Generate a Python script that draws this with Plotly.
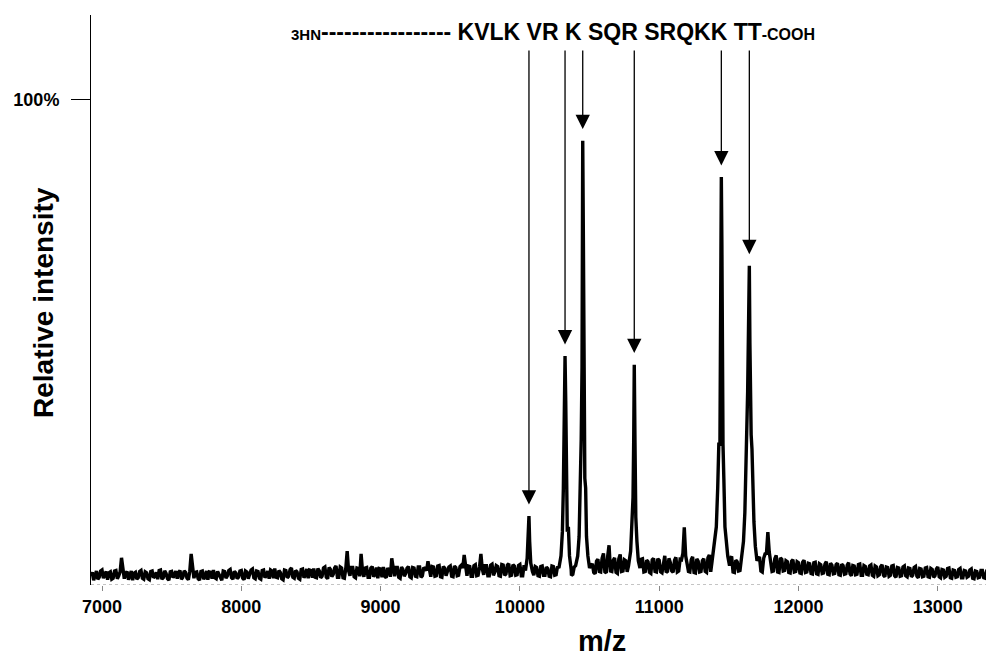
import plotly.graph_objects as go

# ---------------- data ----------------
# baseline spectrum sampled every 20 m/z starting at 6920
noise_start_mz = 6920
noise_step_mz = 20
noise_intensity = [
    1.8,1.0,2.9,1.6,3.1,2.2,1.1,2.7,1.4,3.0,1.9,5.6,1.3,2.8,2.2,1.0,2.6,1.5,3.0,1.2,
    2.5,1.1,2.9,1.8,1.2,3.1,1.5,2.4,1.0,2.8,2.0,1.3,3.0,1.6,2.6,1.1,6.4,1.4,2.7,1.0,
    2.9,1.7,1.1,2.6,3.1,1.3,2.2,1.0,2.8,1.9,3.2,1.2,2.5,1.6,3.0,1.1,2.7,2.0,3.3,1.3,
    2.8,1.2,3.1,2.0,1.3,2.9,3.4,1.5,2.6,1.1,3.0,1.8,3.5,1.4,2.7,1.2,3.3,2.1,1.4,3.0,
    3.4,1.5,2.9,1.8,3.7,1.3,3.2,2.2,3.9,1.6,3.5,1.4,7.0,1.9,3.6,1.5,3.4,6.4,1.7,3.6,
    1.6,3.8,2.2,1.4,3.3,3.7,1.5,3.0,5.5,1.8,3.6,1.4,3.2,2.4,3.8,1.5,3.5,1.7,3.7,1.9,
    3.4,4.9,1.7,3.7,1.9,4.0,1.6,3.5,2.6,3.9,1.7,3.6,2.0,4.1,6.2,1.9,3.8,1.8,4.2,2.0,
    6.4,2.1,4.0,1.9,4.3,2.7,3.8,1.8,4.1,2.3,4.4,2.0,3.9,2.1,4.2,1.9,3.7,2.3,4.1,2.0,
    3.6,1.8,3.9,2.0,3.4,1.7,3.8,2.1,4.1,1.9,3.7,2.0,4.0,2.2,3.5,1.9,3.8,2.1,3.6,1.8,
    4.4,2.3,5.3,2.7,6.5,2.5,8.2,2.8,5.6,2.4,6.3,2.9,5.0,2.6,5.8,2.7,4.7,2.5,5.4,2.8,
    4.8,2.4,5.5,2.7,5.1,2.5,6.0,2.8,4.6,2.6,5.7,2.9,5.2,11.9,4.3,2.7,5.8,2.5,4.9,2.8,
    5.4,2.6,6.2,2.9,5.0,2.7,5.7,2.5,5.1,2.8,5.9,2.6,4.8,3.0,5.3,2.7,4.9,2.5,5.5,2.8,
    5.8,2.7,6.4,10.9,5.0,2.9,6.1,2.6,5.3,3.0,4.8,2.5,5.2,2.8,4.6,2.4,5.1,2.7,4.4,2.3,
    4.7,2.2,4.2,2.5,4.8,2.1,4.1,2.4,4.5,2.0,4.0,2.3,4.6,1.9,3.9,2.2,4.3,2.0,3.8,2.1,
    4.1,1.8,3.7,2.1,4.2,1.7,3.6,2.0,4.0,1.6,3.5,1.9,3.9,1.7,3.4,2.0,3.8,1.5,3.3,1.8,
    3.6,1.6,3.2,1.9,3.7,1.5,3.1,1.8,3.5,1.4,3.0,1.7,3.4,1.5,2.9,1.8,3.3,1.3,2.8,1.6,
    3.0,1.4,2.7,
]
# intermediate samples, every 20 m/z starting at 6930
noise_mid_start_mz = 6930
noise_intensity_mid = [
    2.6,2.3,1.2,2.9,1.4,2.8,2.5,1.2,2.9,1.3,2.7,3.1,2.4,1.1,2.9,2.4,1.2,2.8,1.4,2.7,
    1.3,2.8,1.5,2.6,3.0,1.2,2.9,1.3,2.7,1.5,2.9,2.6,1.2,2.9,1.4,2.8,2.9,2.6,1.3,2.8,
    1.2,2.9,2.7,1.3,1.5,2.8,1.3,2.9,1.4,3.0,1.5,2.8,1.3,2.9,1.4,2.9,1.3,3.1,1.5,2.9,
    1.4,3.0,1.5,2.9,3.1,1.4,1.6,3.0,1.3,3.1,1.5,3.2,1.6,3.0,1.4,3.2,1.5,3.3,3.1,1.5,
    1.6,3.4,1.5,3.5,1.6,3.6,1.7,3.5,1.6,3.7,1.5,3.4,3.0,3.6,1.7,3.5,1.8,2.9,3.5,1.6,
    3.5,1.7,3.6,3.4,1.6,1.8,3.5,1.7,3.2,3.6,1.6,3.7,1.8,3.5,1.7,3.6,1.8,3.7,1.6,3.6,
    3.0,2.9,3.8,1.8,3.9,1.7,3.8,1.9,3.7,1.8,3.9,1.9,3.8,3.5,3.2,3.9,1.8,4.0,1.9,3.7,
    3.3,4.0,1.9,4.1,2.0,4.0,1.9,4.2,2.0,4.1,1.9,4.2,2.0,4.0,1.9,4.1,2.0,3.9,1.9,3.8,
    1.9,3.8,2.0,3.7,1.8,3.9,2.0,3.8,1.9,4.0,1.8,3.9,2.0,3.7,1.9,3.8,2.0,3.9,1.9,4.0,
    2.6,4.9,2.8,5.5,2.7,5.9,2.9,5.1,2.6,5.4,2.8,5.2,2.7,5.5,2.6,5.0,2.9,5.3,2.7,5.1,
    2.6,5.2,2.8,5.4,2.7,5.0,2.6,5.5,2.9,5.1,2.7,5.3,6.5,6.0,2.8,5.2,2.6,5.4,2.7,5.0,
    2.8,5.6,2.7,5.3,2.9,5.5,2.6,5.2,2.8,5.4,2.7,5.1,2.9,5.3,2.6,5.0,2.8,5.2,2.7,5.4,
    2.9,5.5,6.5,6.8,2.8,5.4,2.7,5.6,2.9,5.0,2.6,4.9,2.7,4.8,2.5,4.7,2.6,4.5,2.4,4.6,
    2.3,4.4,2.4,4.3,2.2,4.5,2.3,4.2,2.1,4.3,2.2,4.1,2.3,4.0,2.1,4.2,2.0,4.0,2.2,3.9,
    2.0,3.9,1.9,3.8,2.0,3.7,1.8,3.9,1.9,3.6,1.8,3.7,1.9,3.5,1.7,3.6,1.8,3.4,1.7,3.5,
    1.7,3.4,1.6,3.3,1.7,3.2,1.6,3.4,1.5,3.1,1.6,3.2,1.5,3.0,1.6,3.1,1.4,2.9,1.5,3.0,
    1.5,2.8,
]

# labelled peaks (apex m/z and relative intensity)
peak_mz = [10065, 10324, 10451, 10821, 11446, 11647]
peak_int = [14.2, 47.2, 91.6, 45.4, 84.1, 65.8]

# peak profiles (m/z, intensity) around each labelled peak
peak1_mz = [10040, 10052, 10060, 10065, 10070, 10078, 10090]
peak1_int = [3.0, 5.5, 10.0, 14.2, 9.0, 4.5, 2.8]
peak2_mz = [10280, 10295, 10305, 10312, 10318, 10324, 10329, 10334, 10340, 10348, 10356, 10368]
peak2_int = [3.5, 6.0, 11.0, 20.0, 35.0, 47.2, 38.0, 15.0, 11.0, 12.0, 6.0, 3.2]
peak3_mz = [10400, 10415, 10425, 10433, 10440, 10446, 10451, 10456, 10460, 10466, 10472, 10478, 10488, 10500]
peak3_int = [4.0, 6.0, 10.0, 18.0, 30.0, 45.0, 91.6, 70.0, 28.0, 22.0, 20.0, 10.0, 6.0, 3.5]
peak4_mz = [10780, 10795, 10805, 10812, 10817, 10821, 10826, 10832, 10840, 10850, 10862]
peak4_int = [4.0, 7.0, 12.0, 18.0, 30.0, 45.4, 30.0, 14.0, 9.0, 5.0, 3.5]
peak5_mz = [11380, 11395, 11410, 11420, 11428, 11436, 11441, 11446, 11450, 11453, 11458, 11464, 11472, 11482, 11492, 11505]
peak5_int = [5.0, 8.0, 12.0, 20.0, 29.0, 29.0, 60.0, 84.1, 70.0, 30.0, 29.0, 22.0, 12.0, 9.0, 6.0, 4.0]
peak6_mz = [11590, 11605, 11615, 11625, 11635, 11642, 11647, 11651, 11655, 11660, 11666, 11672, 11680, 11690, 11702]
peak6_int = [5.0, 9.0, 15.0, 25.0, 40.0, 55.0, 65.8, 50.0, 31.0, 31.0, 28.0, 20.0, 13.0, 8.0, 5.0]

x_tick_values = [7000, 8000, 9000, 10000, 11000, 12000, 13000]
x_tick_labels = ["7000", "8000", "9000", "10000", "11000", "12000", "13000"]
y_tick_values = [100]
y_tick_labels = ["100%"]

# ---------------- build spectrum ----------------
profiles = [(peak1_mz, peak1_int), (peak2_mz, peak2_int), (peak3_mz, peak3_int),
            (peak4_mz, peak4_int), (peak5_mz, peak5_int), (peak6_mz, peak6_int)]


def in_peak(m):
    return any(pm[0] <= m <= pm[-1] for pm, _ in profiles)


points = []
for start, vals in ((noise_start_mz, noise_intensity), (noise_mid_start_mz, noise_intensity_mid)):
    for i, v in enumerate(vals):
        m = start + i * noise_step_mz
        if not in_peak(m):
            points.append((m, v))
for pm, pi in profiles:
    points.extend(zip(pm, pi))
points.sort()
spec_mz = [p[0] for p in points]
spec_int = [p[1] for p in points]

FONT = "Liberation Sans"

fig = go.Figure()
fig.add_trace(go.Scatter(x=spec_mz, y=spec_int, mode="lines",
                         line=dict(color="black", width=3.4), hoverinfo="skip",
                         showlegend=False))

# dotted baseline axis
fig.add_shape(type="line", xref="paper", x0=0, x1=1, yref="y", y0=0, y1=0,
              line=dict(color="#888888", width=1, dash="dot"))

# arrows
for m, h in zip(peak_mz, peak_int):
    fig.add_annotation(x=m, y=h + 2.4, ax=m, ay=110.5, xref="x", yref="y",
                       axref="x", ayref="y", text="", showarrow=True,
                       arrowhead=2, arrowsize=2.2, arrowwidth=1.3,
                       arrowcolor="black")

# sequence text
fig.add_annotation(
    xref="paper", yref="paper", x=0.221, y=0.970, xanchor="left", yanchor="middle",
    showarrow=False,
    text='<span style="font-size:15px">3HN</span>----------------- KVLK VR K SQR SRQKK TT<span style="font-size:16px">-COOH</span>',
    font=dict(family=FONT, size=23, color="black", weight="bold"))

# axis titles
fig.add_annotation(xref="paper", yref="paper", x=(602 - 91) / 895, y=(585 - 641) / 570,
                   xanchor="center", yanchor="middle", showarrow=False, text="m/z",
                   font=dict(family=FONT, size=29, color="black", weight="bold"))
fig.add_annotation(xref="paper", yref="paper", x=(43 - 91) / 895, y=(585 - 303) / 570,
                   xanchor="center", yanchor="middle", showarrow=False, textangle=-90,
                   text="Relative intensity",
                   font=dict(family=FONT, size=28, color="black", weight="bold"))

fig.update_layout(
    width=986, height=658,
    margin=dict(l=91, r=0, t=15, b=73),
    paper_bgcolor="white", plot_bgcolor="white",
    xaxis=dict(range=[6921, 13346], tickvals=x_tick_values, ticktext=x_tick_labels,
               ticks="outside", ticklen=5, tickcolor="#888888", showline=False,
               showgrid=False, zeroline=False,
               tickfont=dict(family=FONT, size=18, color="black", weight="bold")),
    yaxis=dict(range=[0, 117.5], tickvals=y_tick_values, ticktext=y_tick_labels,
               ticks="outside", ticklen=19, tickcolor="black", tickwidth=1,
               showline=True, linecolor="black", linewidth=1, showgrid=False,
               zeroline=False, ticklabelstandoff=8,
               tickfont=dict(family=FONT, size=18, color="black", weight="bold")),
)

fig.write_html("out.html")
